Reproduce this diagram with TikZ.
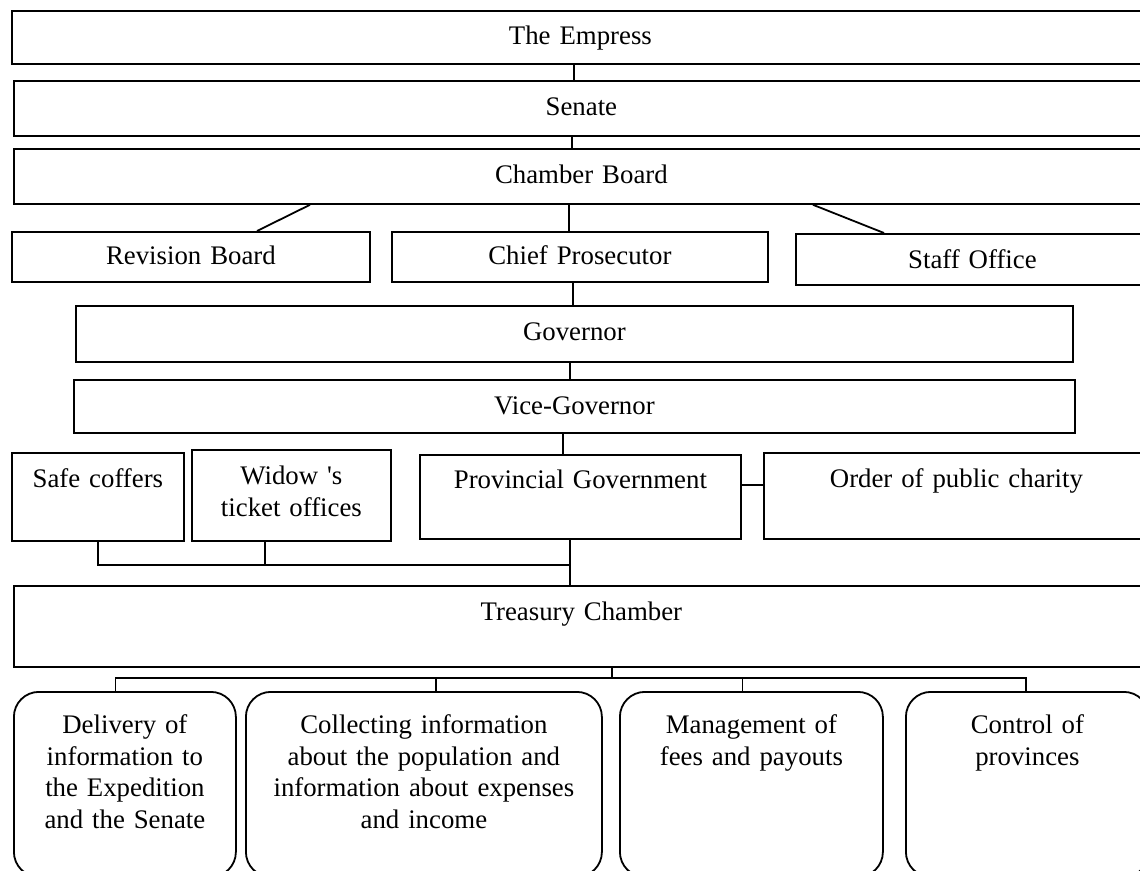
\documentclass[tikz,border=0pt]{standalone}
\usepackage{fontspec}
\setmainfont{Liberation Serif}
\usepackage{tikz}
\usetikzlibrary{positioning}

\begin{document}
\begin{tikzpicture}[
    x=0.5pt, y=-0.5pt,
    unit/.style = {draw, rectangle, line width=0.9pt, inner sep=0pt, anchor=north west, align=center, font=\fontsize{13.4}{15.75}\selectfont},
    task/.style = {unit, rounded corners=12.5pt, text height=21pt, text depth=71.5pt},
    link/.style = {line width=0.9pt}
]
    \useasboundingbox (0,0) rectangle (1140,871);
    \clip (0,0) rectangle (1140,871);

    % Top of the hierarchy
    \node [unit, text width=568.5pt, text height=17pt, text depth=9.5pt] (empress) at (11,10) {The Empress};
    \node [unit, text width=567.5pt, text height=17.5pt, text depth=10pt] (senate) at (13,80) {Senate};
    \node [unit, text width=567.5pt, text height=17.5pt, text depth=10pt] (chamber) at (13,148) {Chamber Board};

    % Boards under the Chamber Board
    \node [unit, text width=179pt, text height=16.5pt, text depth=8.5pt] (revision) at (11,231) {Revision Board};
    \node [unit, text width=188pt, text height=16.5pt, text depth=8.5pt] (chief) at (391,231) {Chief Prosecutor};
    \node [unit, text width=176.5pt, text height=17.5pt, text depth=8pt] (staff) at (795,233) {Staff Office};

    % Province
    \node [unit, text width=498.5pt, text height=17.5pt, text depth=10.5pt] (governor) at (75,305) {Governor};
    \node [unit, text width=500.5pt, text height=17.5pt, text depth=9pt] (vice) at (73,379) {Vice-Governor};
    \node [unit, text width=86pt, text height=17.5pt, text depth=26.5pt] (safe) at (11,452) {Safe coffers};
    \node [unit, text width=99.5pt, text height=17.5pt, text depth=28pt] (widow) at (191,449) {Widow \textquotesingle s\\ticket offices};
    \node [unit, text width=160.5pt, text height=17pt, text depth=25pt] (provincial) at (419,454) {Provincial Government};
    \node [unit, text width=192.5pt, text height=17.5pt, text depth=25.5pt] (order) at (763,452) {Order of public charity};
    \node [unit, text width=567.5pt, text height=17.5pt, text depth=23pt] (treasury) at (13,585) {Treasury Chamber};

    % Tasks of the Treasury Chamber
    \node [task, text width=111pt] (delivery) at (13,691) {Delivery of\\information to\\the Expedition\\and the Senate};
    \node [task, text width=178pt] (collecting) at (245,691) {Collecting information\\about the population and\\information about expenses\\and income};
    \node [task, text width=131.5pt] (management) at (619,691) {Management of\\fees and payouts};
    \node [task, text width=121.5pt] (control) at (905,691) {Control of\\provinces};

    \coordinate (join) at (570,565);
    \coordinate (fan) at (612,678);

    % Connections
    \draw [link] (empress.south -| 574,0) -- (senate.north -| 574,0);
    \draw [link] (senate.south -| 572,0) -- (chamber.north -| 572,0);
    \draw [link] (chamber.south -| 310,0) -- (revision.north -| 257,0);
    \draw [link] (chamber.south -| 569,0) -- (chief.north -| 569,0);
    \draw [link] (chamber.south -| 813,0) -- (staff.north -| 884,0);
    \draw [link] (chief.south -| 573,0) -- (governor.north -| 573,0);
    \draw [link] (governor.south -| 570,0) -- (vice.north -| 570,0);
    \draw [link] (vice.south -| 563,0) -- (provincial.north -| 563,0);
    \draw [link] (provincial.east |- 0,485) -- (order.west |- 0,485);
    \draw [link] (safe.south) -- (safe.south |- join) -- (join);
    \draw [link] (widow.south -| 265,0) -- (join -| 265,0);
    \draw [link] (provincial.south -| join) -- (treasury.north -| join);
    \draw [link] (treasury.south -| fan) -- (fan);
    \draw [link] (delivery.north -| 115.5,0) -- ++(0,-13) -| (control.north -| 1026,0);
    \draw [link] (collecting.north -| 436,0) -- (fan -| 436,0);
    \draw [link] (management.north -| 742.5,0) -- (fan -| 742.5,0);
\end{tikzpicture}
\end{document}
